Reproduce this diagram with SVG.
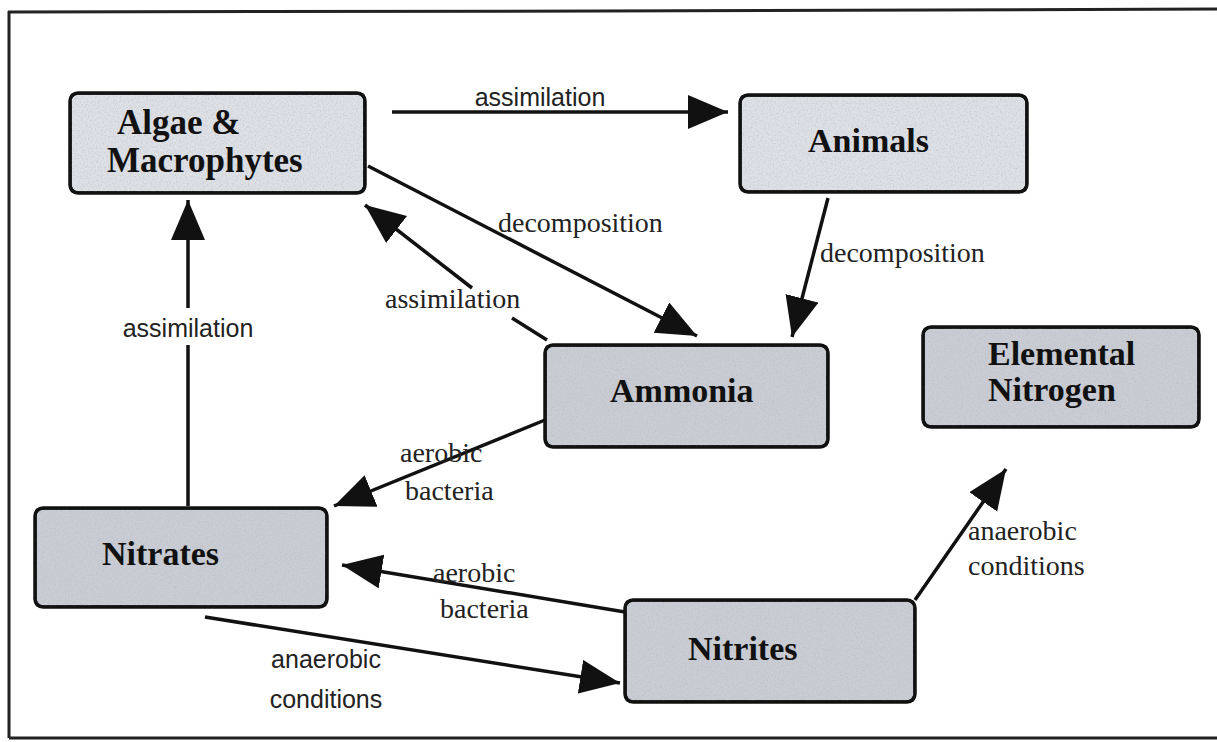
<svg xmlns="http://www.w3.org/2000/svg" width="1217" height="742" viewBox="0 0 1217 742">
<style>
.box{stroke:#111;stroke-width:3.5;}
.light{fill:#dde0e5;}
.dark{fill:#c9ccd3;}
.nt{font-family:"Liberation Serif",serif;font-weight:bold;font-size:34px;fill:#111;}
.big{font-size:35px;}
.ls{font-family:"Liberation Serif",serif;font-size:28px;fill:#222;}
.la{font-family:"Liberation Sans",sans-serif;font-size:25px;fill:#222;}
.c{stroke:#111;stroke-width:3.5;fill:none;}
.frame{stroke:#222;stroke-width:3;fill:none;}
</style>
<defs>
<marker id="ah" markerUnits="userSpaceOnUse" markerWidth="44" markerHeight="36" refX="40" refY="17" orient="auto">
<path d="M0,0 L40,17 L0,34 z" fill="#111"/>
</marker>
<filter id="tex" x="0" y="0" width="1" height="1">
<feTurbulence type="fractalNoise" baseFrequency="0.6" numOctaves="2" seed="3" result="n"/>
<feColorMatrix in="n" type="matrix" values="0 0 0 0 0.45  0 0 0 0 0.47  0 0 0 0 0.52  0 0 0 1.2 -0.55" result="s"/>
<feComposite in="s" in2="SourceGraphic" operator="atop"/>
</filter>
</defs>
<rect width="1217" height="742" fill="#fff"/>
<g id="frame">
<path class="frame" d="M8,12 L600,11 L1217,9"/>
<path class="frame" d="M9,11 L9,738"/>
<path class="frame" d="M9,738 L1217,738"/>
</g>
<g id="connectors">
<line class="c" x1="392" y1="112" x2="728" y2="112" marker-end="url(#ah)"/>
<text class="la" x="540" y="106" text-anchor="middle">assimilation</text>
<line class="c" x1="368" y1="166" x2="697" y2="336" marker-end="url(#ah)"/>
<text class="ls" x="498" y="232">decomposition</text>
<line class="c" x1="547" y1="340" x2="512" y2="318"/>
<line class="c" x1="472" y1="288" x2="365" y2="205" marker-end="url(#ah)"/>
<text class="ls" x="385" y="308">assimilation</text>
<line class="c" x1="828" y1="198" x2="792" y2="337" marker-end="url(#ah)"/>
<text class="ls" x="820" y="262">decomposition</text>
<line class="c" x1="188" y1="506" x2="188" y2="345"/>
<line class="c" x1="188" y1="308" x2="188" y2="200" marker-end="url(#ah)"/>
<text class="la" x="188" y="337" text-anchor="middle">assimilation</text>
<line class="c" x1="545" y1="420" x2="334" y2="506" marker-end="url(#ah)"/>
<text class="ls" x="400" y="462">aerobic</text>
<text class="ls" x="405" y="500">bacteria</text>
<line class="c" x1="625" y1="612" x2="342" y2="565" marker-end="url(#ah)"/>
<text class="ls" x="433" y="582">aerobic</text>
<text class="ls" x="440" y="618">bacteria</text>
<line class="c" x1="205" y1="617" x2="620" y2="683" marker-end="url(#ah)"/>
<text class="la" x="326" y="668" text-anchor="middle">anaerobic</text>
<text class="la" x="326" y="708" text-anchor="middle">conditions</text>
<line class="c" x1="915" y1="600" x2="1006" y2="469" marker-end="url(#ah)"/>
<text class="ls" x="968" y="540">anaerobic</text>
<text class="ls" x="968" y="575">conditions</text>
</g>
<g id="algae">
<rect class="box light" x="70" y="93" width="295" height="100" rx="8" filter="url(#tex)"/>
<rect x="70" y="93" width="295" height="100" rx="8" fill="none" stroke="#111" stroke-width="3.5"/>
<text class="nt big" x="117" y="134">Algae &amp;</text>
<text class="nt big" x="107" y="172">Macrophytes</text>
</g>
<g id="animals">
<rect class="box light" x="740" y="95" width="287" height="97" rx="8" filter="url(#tex)"/>
<rect x="740" y="95" width="287" height="97" rx="8" fill="none" stroke="#111" stroke-width="3.5"/>
<text class="nt" x="808" y="152">Animals</text>
</g>
<g id="ammonia">
<rect class="box dark" x="545" y="345" width="283" height="102" rx="8" filter="url(#tex)"/>
<rect x="545" y="345" width="283" height="102" rx="8" fill="none" stroke="#111" stroke-width="3.5"/>
<text class="nt" x="610" y="402">Ammonia</text>
</g>
<g id="elemental">
<rect class="box dark" x="923" y="327" width="276" height="100" rx="8" filter="url(#tex)"/>
<rect x="923" y="327" width="276" height="100" rx="8" fill="none" stroke="#111" stroke-width="3.5"/>
<text class="nt" x="988" y="365">Elemental</text>
<text class="nt" x="988" y="401">Nitrogen</text>
</g>
<g id="nitrates">
<rect class="box dark" x="35" y="508" width="292" height="99" rx="8" filter="url(#tex)"/>
<rect x="35" y="508" width="292" height="99" rx="8" fill="none" stroke="#111" stroke-width="3.5"/>
<text class="nt" x="102" y="565">Nitrates</text>
</g>
<g id="nitrites">
<rect class="box dark" x="625" y="600" width="290" height="102" rx="8" filter="url(#tex)"/>
<rect x="625" y="600" width="290" height="102" rx="8" fill="none" stroke="#111" stroke-width="3.5"/>
<text class="nt" x="688" y="660">Nitrites</text>
</g>
</svg>
